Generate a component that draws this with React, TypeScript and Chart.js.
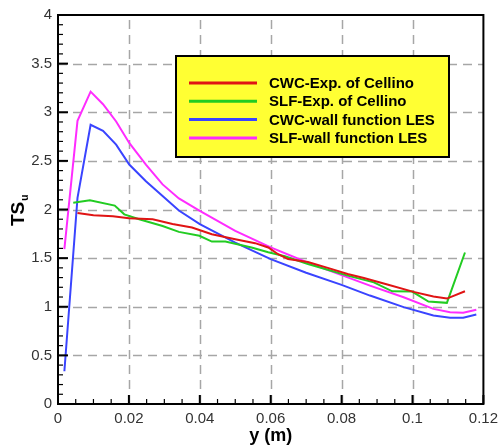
import React, { useEffect, useRef } from "react";
import { Chart, registerables } from "chart.js";

Chart.register(...registerables);

const seriesNames = [
  "CWC-Exp. of Cellino",
  "SLF-Exp. of Cellino",
  "CWC-wall function LES",
  "SLF-wall function LES",
];
const seriesColors = ["#e01414", "#22cc22", "#3a44ff", "#ff2cff"];

const cwcExpX = [0.0055, 0.01, 0.0155, 0.02, 0.0267, 0.0323, 0.0378, 0.0434, 0.05, 0.0556, 0.0593, 0.0621, 0.0649, 0.0705, 0.0761, 0.0817, 0.0863, 0.0929, 0.1003, 0.1059, 0.1097, 0.1148];
const cwcExpY = [1.965, 1.94, 1.93, 1.91, 1.9, 1.85, 1.814, 1.746, 1.695, 1.654, 1.61, 1.54, 1.49, 1.46, 1.4, 1.337, 1.296, 1.228, 1.153, 1.105, 1.084, 1.159];

const slfExpX = [0.0043, 0.009, 0.016, 0.0187, 0.0229, 0.0295, 0.0341, 0.0399, 0.0434, 0.0472, 0.0546, 0.0593, 0.064, 0.0705, 0.0761, 0.0817, 0.0891, 0.0943, 0.0999, 0.1045, 0.1097, 0.1148];
const slfExpY = [2.07, 2.094, 2.04, 1.95, 1.9, 1.83, 1.77, 1.73, 1.67, 1.67, 1.61, 1.56, 1.52, 1.44, 1.38, 1.32, 1.251, 1.159, 1.156, 1.054, 1.04, 1.558];

const cwcLesX = [0.0018, 0.0055, 0.0092, 0.0127, 0.0164, 0.0201, 0.0248, 0.0295, 0.0341, 0.04, 0.05, 0.06, 0.07, 0.08, 0.088, 0.0975, 0.1059, 0.1106, 0.1143, 0.118];
const cwcLesY = [0.337, 2.12, 2.871, 2.81, 2.667, 2.462, 2.29, 2.138, 1.99, 1.85, 1.66, 1.49, 1.35, 1.225, 1.115, 0.996, 0.91, 0.887, 0.887, 0.92];

const slfLesX = [0.0018, 0.0055, 0.0092, 0.0127, 0.0164, 0.0201, 0.0248, 0.0295, 0.0341, 0.04, 0.05, 0.06, 0.07, 0.08, 0.088, 0.0975, 0.1059, 0.1106, 0.1143, 0.118];
const slfLesY = [1.593, 2.912, 3.212, 3.083, 2.905, 2.684, 2.462, 2.258, 2.114, 1.985, 1.78, 1.61, 1.46, 1.325, 1.217, 1.098, 0.978, 0.944, 0.938, 0.969];

const xMajorTicks = [0, 0.02, 0.04, 0.06, 0.08, 0.1, 0.12];
const yMajorTicks = [0, 0.5, 1, 1.5, 2, 2.5, 3, 3.5, 4];

const FONT = "Arial, 'Liberation Sans', sans-serif";

function pts(xs: number[], ys: number[]) {
  return xs.map((x, i) => ({ x, y: ys[i] }));
}

const decorPlugin = {
  id: "decor",
  beforeDatasetsDraw(chart: any) {
    const { ctx, chartArea: a, scales } = chart;
    const xs = scales.x;
    const ys = scales.y;
    ctx.save();
    ctx.strokeStyle = "#a6a6a6";
    ctx.lineWidth = 1.5;
    ctx.setLineDash([9, 6]);
    xMajorTicks.slice(1, -1).forEach((v) => {
      const px = Math.round(xs.getPixelForValue(v)) + 0.5;
      ctx.beginPath();
      ctx.moveTo(px, a.bottom);
      ctx.lineTo(px, a.top);
      ctx.stroke();
    });
    yMajorTicks.slice(1, -1).forEach((v) => {
      const py = Math.round(ys.getPixelForValue(v)) + 0.5;
      ctx.beginPath();
      ctx.moveTo(a.left, py);
      ctx.lineTo(a.right, py);
      ctx.stroke();
    });
    ctx.restore();
  },
  afterDatasetsDraw(chart: any) {
    const { ctx, chartArea: a, scales } = chart;
    const xs = scales.x;
    const ys = scales.y;
    ctx.save();
    ctx.setLineDash([]);
    ctx.strokeStyle = "#000";
    for (let i = 0; i <= 24; i++) {
      const v = i * 0.005;
      const px = xs.getPixelForValue(v);
      const len = i % 4 === 0 ? 9 : 5;
      ctx.lineWidth = i % 4 === 0 ? 2 : 1.2;
      ctx.beginPath();
      ctx.moveTo(px, a.bottom);
      ctx.lineTo(px, a.bottom - len);
      ctx.stroke();
    }
    for (let i = 0; i <= 40; i++) {
      const v = i * 0.1;
      const py = ys.getPixelForValue(v);
      const len = i % 5 === 0 ? 10 : 5;
      ctx.lineWidth = i % 5 === 0 ? 2 : 1.2;
      ctx.beginPath();
      ctx.moveTo(a.left, py);
      ctx.lineTo(a.left + len, py);
      ctx.stroke();
    }
    ctx.lineWidth = 2;
    ctx.strokeRect(a.left, a.top, a.right - a.left, a.bottom - a.top);

    // legend
    const bx = 176, by = 56, bw = 273, bh = 101;
    ctx.fillStyle = "#ffff33";
    ctx.fillRect(bx, by, bw, bh);
    ctx.lineWidth = 2;
    ctx.strokeStyle = "#000";
    ctx.strokeRect(bx, by, bw, bh);
    ctx.font = `bold 15px ${FONT}`;
    ctx.textBaseline = "middle";
    ctx.textAlign = "left";
    seriesNames.forEach((name, i) => {
      const yy = 83 + i * 18.3;
      ctx.strokeStyle = seriesColors[i];
      ctx.lineWidth = 3;
      ctx.beginPath();
      ctx.moveTo(189, yy);
      ctx.lineTo(257, yy);
      ctx.stroke();
      ctx.fillStyle = "#000";
      ctx.fillText(name, 269, yy + 1);
    });

    // axis titles
    ctx.fillStyle = "#000";
    ctx.font = `bold 18px ${FONT}`;
    ctx.textAlign = "center";
    ctx.textBaseline = "alphabetic";
    ctx.fillText("y (m)", (a.left + a.right) / 2, 441);

    ctx.save();
    ctx.translate(24, 226);
    ctx.rotate(-Math.PI / 2);
    ctx.textAlign = "left";
    ctx.font = `bold 19px ${FONT}`;
    ctx.fillText("TS", 0, 0);
    const w = ctx.measureText("TS").width;
    ctx.font = `bold 10px ${FONT}`;
    ctx.fillText("u", w + 1, 4);
    ctx.restore();

    ctx.restore();
  },
};

export default function App() {
  const ref = useRef<HTMLCanvasElement>(null);
  useEffect(() => {
    if (!ref.current) return;
    const data = [
      pts(cwcExpX, cwcExpY),
      pts(slfExpX, slfExpY),
      pts(cwcLesX, cwcLesY),
      pts(slfLesX, slfLesY),
    ];
    const chart = new Chart(ref.current, {
      type: "line",
      data: {
        datasets: data.map((d, i) => ({
          label: seriesNames[i],
          data: d,
          borderColor: seriesColors[i],
          backgroundColor: seriesColors[i],
          borderWidth: 2,
          pointRadius: 0,
          tension: 0,
          fill: false,
        })),
      },
      options: {
        responsive: false,
        animation: false,
        devicePixelRatio: 1,
        layout: { padding: { top: 13, right: 17, left: 0, bottom: 0 } },
        plugins: {
          legend: { display: false },
          tooltip: { enabled: false },
        },
        scales: {
          x: {
            type: "linear",
            min: 0,
            max: 0.12,
            grid: { display: false, drawTicks: false },
            border: { display: false },
            ticks: {
              stepSize: 0.02,
              padding: 6,
              color: "#333",
              font: { size: 15, family: FONT },
              maxRotation: 0,
              callback: (v: any) => String(Number(Number(v).toFixed(3))),
            },
            afterFit: (s: any) => {
              s.height = 42;
            },
          },
          y: {
            type: "linear",
            min: 0,
            max: 4,
            grid: { display: false, drawTicks: false },
            border: { display: false },
            ticks: {
              stepSize: 0.5,
              padding: 6,
              color: "#333",
              font: { size: 15, family: FONT },
              callback: (v: any) => String(Number(Number(v).toFixed(3))),
            },
            afterFit: (s: any) => {
              s.width = 58;
            },
          },
        },
      },
      plugins: [decorPlugin],
    });
    return () => chart.destroy();
  }, []);
  return (
    <canvas
      ref={ref}
      width={504}
      height={446}
      style={{ position: "absolute", left: 0, top: 0, width: 504, height: 446 }}
    />
  );
}
